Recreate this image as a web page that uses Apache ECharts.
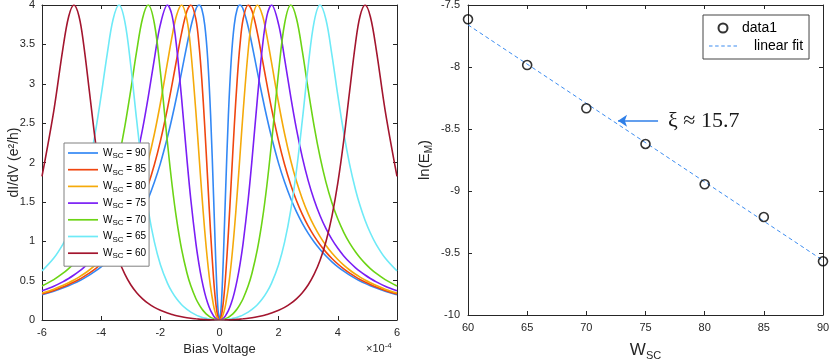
<!DOCTYPE html>
<html>
<head>
<meta charset="utf-8">
<script src="https://cdn.jsdelivr.net/npm/echarts@6/dist/echarts.min.js"></script>
<style>
  html, body { margin: 0; padding: 0; background: #fff; }
  #chart { width: 830px; height: 361px; }
</style>
</head>
<body>
<div id="chart"></div>
<script>
// bias voltage, in units of 1e-4
const biasVoltage = [-6.0, -5.6, -5.3, -5.1, -4.92, -4.75, -4.6, -4.4, -4.2, -4.0, -3.8, -3.6, -3.4, -3.2, -3.0, -2.8, -2.6, -2.41, -2.2, -2.0, -1.76, -1.6, -1.45, -1.28, -1.1, -0.97, -0.8, -0.69, -0.6, -0.5, -0.4, -0.3, -0.2, -0.15, -0.1, -0.05,
  0,
  0.05, 0.1, 0.15, 0.2, 0.3, 0.4, 0.5, 0.6, 0.69, 0.8, 0.97, 1.1, 1.28, 1.45, 1.6, 1.76, 2.0, 2.2, 2.41, 2.6, 2.8, 3.0, 3.2, 3.4, 3.6, 3.8, 4.0, 4.2, 4.4, 4.6, 4.75, 4.92, 5.1, 5.3, 5.6, 6.0]

// dI/dV (e^2/h) for each W_SC
const dIdV_90 = [0.321, 0.366, 0.405, 0.435, 0.465, 0.496, 0.526, 0.570, 0.620, 0.676, 0.739, 0.812, 0.895, 0.990, 1.100, 1.227, 1.376, 1.539, 1.751, 1.986, 2.320, 2.574, 2.835, 3.151, 3.492, 3.721, 3.946, 4, 3.952, 3.750, 3.323, 2.596, 1.567, 1.004, 0.494, 0.132,
  0,
  0.132, 0.494, 1.004, 1.567, 2.596, 3.323, 3.750, 3.952, 4, 3.946, 3.721, 3.492, 3.151, 2.835, 2.574, 2.320, 1.986, 1.751, 1.539, 1.376, 1.227, 1.100, 0.990, 0.895, 0.812, 0.739, 0.676, 0.620, 0.570, 0.526, 0.496, 0.465, 0.435, 0.405, 0.366, 0.321]
const dIdV_85 = [0.329, 0.376, 0.418, 0.450, 0.482, 0.515, 0.547, 0.595, 0.649, 0.711, 0.781, 0.862, 0.956, 1.065, 1.192, 1.341, 1.518, 1.715, 1.975, 2.268, 2.684, 2.998, 3.307, 3.647, 3.923, 4, 3.823, 3.484, 3.062, 2.464, 1.782, 1.103, 0.524, 0.302, 0.137, 0.035,
  0,
  0.035, 0.137, 0.302, 0.524, 1.103, 1.782, 2.464, 3.062, 3.484, 3.823, 4, 3.923, 3.647, 3.307, 2.998, 2.684, 2.268, 1.975, 1.715, 1.518, 1.341, 1.192, 1.065, 0.956, 0.862, 0.781, 0.711, 0.649, 0.595, 0.547, 0.515, 0.482, 0.450, 0.418, 0.376, 0.329]
const dIdV_80 = [0.342, 0.392, 0.438, 0.473, 0.508, 0.545, 0.581, 0.635, 0.697, 0.768, 0.850, 0.946, 1.058, 1.191, 1.348, 1.537, 1.764, 2.023, 2.365, 2.749, 3.267, 3.609, 3.871, 4, 3.811, 3.422, 2.651, 2.076, 1.611, 1.137, 0.733, 0.413, 0.183, 0.103, 0.046, 0.011,
  0,
  0.011, 0.046, 0.103, 0.183, 0.413, 0.733, 1.137, 1.611, 2.076, 2.651, 3.422, 3.811, 4, 3.871, 3.609, 3.267, 2.749, 2.365, 2.023, 1.764, 1.537, 1.348, 1.191, 1.058, 0.946, 0.850, 0.768, 0.697, 0.635, 0.581, 0.545, 0.508, 0.473, 0.438, 0.392, 0.342]
const dIdV_75 = [0.370, 0.429, 0.484, 0.527, 0.571, 0.617, 0.663, 0.733, 0.814, 0.910, 1.023, 1.159, 1.323, 1.523, 1.767, 2.065, 2.427, 2.831, 3.320, 3.751, 4, 3.858, 3.467, 2.808, 2.039, 1.530, 0.980, 0.700, 0.513, 0.345, 0.215, 0.118, 0.052, 0.029, 0.013, 0.003,
  0,
  0.003, 0.013, 0.029, 0.052, 0.118, 0.215, 0.345, 0.513, 0.700, 0.980, 1.530, 2.039, 2.808, 3.467, 3.858, 4, 3.751, 3.320, 2.831, 2.427, 2.065, 1.767, 1.523, 1.323, 1.159, 1.023, 0.910, 0.814, 0.733, 0.663, 0.617, 0.571, 0.527, 0.484, 0.429, 0.370]
const dIdV_70 = [0.432, 0.513, 0.591, 0.653, 0.719, 0.790, 0.863, 0.976, 1.114, 1.282, 1.490, 1.748, 2.068, 2.460, 2.920, 3.413, 3.832, 4, 3.762, 3.157, 2.254, 1.705, 1.277, 0.896, 0.597, 0.434, 0.273, 0.195, 0.143, 0.097, 0.061, 0.033, 0.015, 0.008, 0.004, 0.001,
  0,
  0.001, 0.004, 0.008, 0.015, 0.033, 0.061, 0.097, 0.143, 0.195, 0.273, 0.434, 0.597, 0.896, 1.277, 1.705, 2.254, 3.157, 3.762, 4, 3.832, 3.413, 2.920, 2.460, 2.068, 1.748, 1.490, 1.282, 1.114, 0.976, 0.863, 0.790, 0.719, 0.653, 0.591, 0.513, 0.432]
const dIdV_65 = [0.623, 0.787, 0.958, 1.105, 1.267, 1.453, 1.651, 1.974, 2.375, 2.852, 3.368, 3.812, 4, 3.789, 3.232, 2.537, 1.893, 1.399, 0.988, 0.706, 0.468, 0.353, 0.269, 0.194, 0.134, 0.100, 0.065, 0.047, 0.035, 0.024, 0.015, 0.008, 0.004, 0.002, 0.001, 0.000,
  0,
  0.000, 0.001, 0.002, 0.004, 0.008, 0.015, 0.024, 0.035, 0.047, 0.065, 0.100, 0.134, 0.194, 0.269, 0.353, 0.468, 0.706, 0.988, 1.399, 1.893, 2.537, 3.232, 3.789, 4, 3.812, 3.368, 2.852, 2.375, 1.974, 1.651, 1.453, 1.267, 1.105, 0.958, 0.787, 0.623]
const dIdV_60 = [1.824, 2.660, 3.431, 3.851, 4, 3.858, 3.523, 2.910, 2.280, 1.740, 1.316, 0.997, 0.759, 0.582, 0.448, 0.347, 0.269, 0.211, 0.161, 0.123, 0.088, 0.070, 0.055, 0.041, 0.029, 0.022, 0.015, 0.011, 0.008, 0.006, 0.004, 0.002, 0.001, 0, 0, 0,
  0,
  0, 0, 0, 0.001, 0.002, 0.004, 0.006, 0.008, 0.011, 0.015, 0.022, 0.029, 0.041, 0.055, 0.070, 0.088, 0.123, 0.161, 0.211, 0.269, 0.347, 0.448, 0.582, 0.759, 0.997, 1.316, 1.740, 2.280, 2.910, 3.523, 3.858, 4, 3.851, 3.431, 2.660, 1.824]

const wscValues = [90, 85, 80, 75, 70, 65, 60]
const curves = [dIdV_90, dIdV_85, dIdV_80, dIdV_75, dIdV_70, dIdV_65, dIdV_60]
const curveColors = ['#3388F5', '#F0460F', '#F5AA0A', '#7A1EF5', '#6CD415', '#6EEAF7', '#A3152E']

// right panel: ln(E_M) vs W_SC
const wscPoints = [60, 65, 70, 75, 80, 85, 90]
const lnEM = [-7.615, -7.984, -8.333, -8.621, -8.946, -9.210, -9.567]
const fitW = [60, 90]
const fitLnEM = [-7.66, -9.56]
// annotation arrow (data coords)
const arrowFrom = [76.06, -8.433]
const arrowTo = [72.68, -8.433]

const ink = '#262626'
const font = '"Liberation Sans", Arial, sans-serif'
// legend icons: plain line / dashed line
const lineIcon = 'path://M0,0h30v1.7h-30z'
const dashIcon = 'path://M0,0h4v1.3h-4z M7,0h4v1.3h-4z M14,0h4v1.3h-4z M21,0h4v1.3h-4z M28,0h4v1.3h-4z'

// 轴的公共样式
function baseAxis(extra) {
  return Object.assign({
    type: 'value',
    axisLine: { show: true, onZero: false, lineStyle: { color: ink, width: 1 } },
    axisTick: { show: true, inside: true, length: 4, lineStyle: { color: ink } },
    axisLabel: { color: ink, fontSize: 11, fontFamily: font },
    splitLine: { show: false },
  }, extra)
}
// 盒子的上/右边
function boxAxis(extra) {
  return baseAxis(Object.assign({ axisLabel: { show: false } }, extra))
}

const chart = echarts.init(document.getElementById('chart'))

const curveSeries = curves.map((arr, i) => ({
  name: 'WSC = ' + wscValues[i],
  type: 'line',
  xAxisIndex: 0,
  yAxisIndex: 0,
  data: biasVoltage.map((v, j) => [v, arr[j]]),
  showSymbol: false,
  symbol: 'none',
  smooth: 0.35,
  lineStyle: { color: curveColors[i], width: 1.6 },
  itemStyle: { color: curveColors[i] },
}))

chart.setOption({
  animation: false,
  textStyle: { fontFamily: font },
  grid: [
    { left: 42, top: 5, width: 355, height: 315, outerBoundsMode: 'none' },
    { left: 468, top: 5, width: 355, height: 310, outerBoundsMode: 'none' },
  ],
  xAxis: [
    baseAxis({
      gridIndex: 0, min: -6, max: 6, interval: 2,
      name: 'Bias Voltage', nameLocation: 'middle', nameGap: 23,
      nameTextStyle: { color: ink, fontSize: 13 },
      axisLabel: { color: ink, fontSize: 11, margin: 7 },
    }),
    boxAxis({ gridIndex: 0, position: 'top', min: -6, max: 6, interval: 2 }),
    baseAxis({
      gridIndex: 1, min: 60, max: 90, interval: 5,
      name: '{w|W}{s|SC}', nameLocation: 'middle', nameGap: 25,
      nameTextStyle: {
        color: ink,
        rich: {
          w: { fontSize: 17, color: ink },
          s: { fontSize: 11, color: ink, padding: [10, 0, 0, 0] },
        },
      },
      axisLabel: { color: ink, fontSize: 11, margin: 7 },
    }),
    boxAxis({ gridIndex: 1, position: 'top', min: 60, max: 90, interval: 5 }),
  ],
  yAxis: [
    baseAxis({
      gridIndex: 0, min: 0, max: 4, interval: 0.5,
      name: 'dI/dV (e²/h)', nameLocation: 'middle', nameGap: 21,
      nameMoveOverlap: false,
      nameTextStyle: { color: ink, fontSize: 14 },
      axisLabel: { color: ink, fontSize: 11, margin: 7 },
    }),
    boxAxis({ gridIndex: 0, position: 'right', min: 0, max: 4, interval: 0.5 }),
    baseAxis({
      gridIndex: 1, min: -10, max: -7.5, interval: 0.5,
      name: '{t|ln(E}{s|M}{t|)}', nameLocation: 'middle', nameGap: 34,
      nameTextStyle: {
        color: ink,
        rich: {
          t: { fontSize: 15, color: ink },
          s: { fontSize: 10, color: ink, padding: [9, 0, 0, 0] },
        },
      },
      axisLabel: { color: ink, fontSize: 11, margin: 8 },
    }),
    boxAxis({ gridIndex: 1, position: 'right', min: -10, max: -7.5, interval: 0.5 }),
  ],
  legend: [
    {
      data: curveSeries.map(s => ({ name: s.name, icon: lineIcon })),
      orient: 'vertical',
      left: 64, top: 143,
      padding: [5, 3, 6, 4],
      itemGap: 4.7,
      itemWidth: 30,
      itemHeight: 12,
      backgroundColor: '#fff',
      borderColor: '#808080',
      borderWidth: 1,
      borderRadius: 0,
      formatter: name => '{w|W}{s|SC}{w|' + name.slice(3) + '}',
      textStyle: {
        color: '#000',
        rich: {
          w: { fontSize: 10, color: '#000' },
          s: { fontSize: 8, color: '#000', padding: [6, 0, 0, 0] },
        },
      },
    },
    {
      data: ['data1', { name: 'linear fit', icon: dashIcon }],
      orient: 'vertical',
      left: 703, top: 15,
      padding: [6, 6, 6, 6],
      itemGap: 4,
      itemWidth: 28,
      itemHeight: 9,
      backgroundColor: '#fff',
      borderColor: '#444',
      borderWidth: 1,
      borderRadius: 0,
      formatter: name => (name === 'linear fit' ? '{p|' + name + '}' : name),
      textStyle: {
        color: '#000', fontSize: 14,
        rich: { p: { fontSize: 14, color: '#000', padding: [0, 0, 0, 12] } },
      },
    },
  ],
  graphic: [
    {
      type: 'text', left: 366, top: 342,
      style: {
        text: '{a|×10}{b|-4}',
        rich: {
          a: { fontSize: 11, fill: ink, fontFamily: font, padding: [6, 0, 0, 0] },
          b: { fontSize: 8, fill: ink, fontFamily: font },
        },
      },
    },
    {
      type: 'text', left: 668, top: 110,
      style: {
        text: 'ξ ≈ 15.7',
        font: '22px "Liberation Serif", "Times New Roman", serif',
        fill: '#1a1a1a',
      },
    },
  ],
  series: curveSeries.concat([
    {
      name: 'data1',
      type: 'scatter',
      xAxisIndex: 2,
      yAxisIndex: 2,
      data: wscPoints.map((w, i) => [w, lnEM[i]]),
      symbol: 'circle',
      symbolSize: 9,
      itemStyle: { color: 'rgba(255,255,255,0)', borderColor: '#000', borderWidth: 1.6 },
      z: 5,
    },
    {
      name: 'linear fit',
      type: 'line',
      xAxisIndex: 2,
      yAxisIndex: 2,
      data: fitW.map((w, i) => [w, fitLnEM[i]]),
      showSymbol: false,
      symbol: 'none',
      lineStyle: { color: '#3C8CF0', width: 1, type: [4, 3] },
      itemStyle: { color: '#3C8CF0' },
      markLine: {
        silent: true,
        symbol: ['none', 'arrow'],
        symbolSize: 9,
        label: { show: false },
        lineStyle: { color: '#2F7FE8', width: 1.5, type: 'solid' },
        data: [[{ coord: arrowFrom }, { coord: arrowTo }]],
      },
    },
  ]),
})
</script>
</body>
</html>
